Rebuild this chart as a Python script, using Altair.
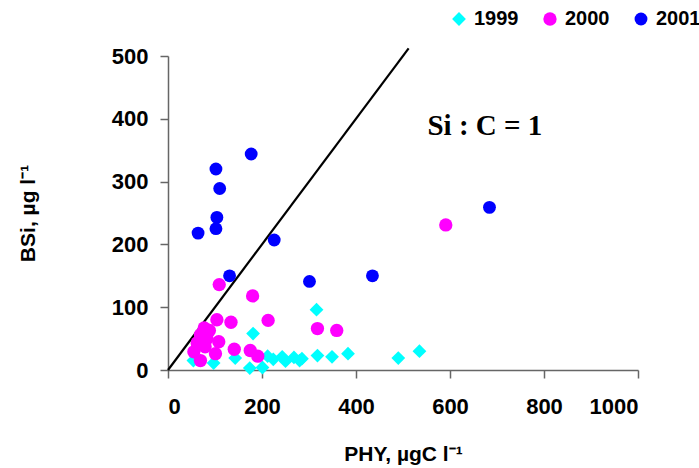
import altair as alt
import pandas as pd

# ---- data ----
years = ["1999", "2000", "2001"]
colors = ["#00FFFF", "#FF00FF", "#0000FF"]
shapes = ["diamond", "circle", "circle"]

phy_1999 = [54, 97, 143, 174, 181, 201, 212, 224, 243, 250, 268, 280, 285, 316, 318, 349, 383, 490, 535]
bsi_1999 = [15, 11, 19, 3, 58, 4, 22, 17, 21, 14, 20, 15, 18, 96, 23, 21, 26, 19, 30]

phy_2000 = [109, 180, 104, 134, 77, 88, 69, 83, 108, 62, 79, 55, 101, 141, 175, 69, 191, 213, 318, 359, 591]
bsi_2000 = [136, 118, 80, 76, 67, 63, 56, 50, 45, 43, 37, 29, 26, 33, 31, 15, 22, 79, 66, 63, 231]

phy_2001 = [64, 102, 110, 104, 102, 177, 226, 131, 301, 435, 684]
bsi_2001 = [218, 320, 289, 243, 225, 344, 207, 150, 141, 150, 259]

ratio_x = [0, 512]
ratio_y = [0, 512]
ratio_label = "Si : C = 1"
ratio_label_x = 552
ratio_label_y = 374

x_ticks = [0, 200, 400, 600, 800, 1000]
y_ticks = [0, 100, 200, 300, 400, 500]

# ---- build tables ----
rows = []
for yr, xs, ys in zip(years, [phy_1999, phy_2000, phy_2001], [bsi_1999, bsi_2000, bsi_2001]):
    for a, b in zip(xs, ys):
        rows.append({"year": yr, "phy": a, "bsi": b})
pts = pd.DataFrame(rows)
line_df = pd.DataFrame({"phy": ratio_x, "bsi": ratio_y})

FONT = "Liberation Sans"
AXIS_COLOR = "#666666"

xscale = alt.Scale(domain=[0, 1000], nice=False, zero=True)
yscale = alt.Scale(domain=[0, 500], nice=False, zero=True)

xaxis = alt.Axis(
    values=x_ticks, format="d", title="PHY, µgC l⁻¹", grid=False,
    labelFont=FONT, labelFontWeight="bold", labelFontSize=22, labelColor="black",
    labelPadding=18, tickSize=8, tickColor=AXIS_COLOR, tickWidth=1.5,
    domainColor=AXIS_COLOR, domainWidth=1.5,
    titleFont=FONT, titleFontWeight="bold", titleFontSize=21, titleColor="black",
    titleBaseline="alphabetic", titleX=235, titleY=90, titleAnchor="middle",
)
yaxis = alt.Axis(
    values=y_ticks, format="d", title="BSi, µg l⁻¹", grid=False,
    labelFont=FONT, labelFontWeight="bold", labelFontSize=22, labelColor="black",
    labelPadding=12, tickSize=8, tickColor=AXIS_COLOR, tickWidth=1.5,
    domainColor=AXIS_COLOR, domainWidth=1.5,
    titleFont=FONT, titleFontWeight="bold", titleFontSize=21, titleColor="black",
    titleBaseline="alphabetic", titleX=-134, titleY=157, titleAngle=-90,
    titleAlign="center",
)

line = alt.Chart(line_df).mark_line(color="black", strokeWidth=2.2, clip=False).encode(
    x=alt.X("phy:Q", scale=xscale, axis=xaxis),
    y=alt.Y("bsi:Q", scale=yscale, axis=yaxis),
)

points = alt.Chart(pts).mark_point(filled=True, opacity=1, strokeWidth=0).encode(
    x=alt.X("phy:Q", scale=xscale, axis=xaxis),
    y=alt.Y("bsi:Q", scale=yscale, axis=yaxis),
    color=alt.Color(
        "year:N", scale=alt.Scale(domain=years, range=colors),
        legend=alt.Legend(
            title=None, orient="none", legendX=281, legendY=-47, direction="horizontal",
            labelFont=FONT, labelFontWeight="bold", labelFontSize=20, labelColor="black",
            symbolSize=150, columnPadding=21, labelOffset=5, padding=0,
        ),
    ),
    shape=alt.Shape("year:N", scale=alt.Scale(domain=years, range=shapes)),
    size=alt.Size("year:N", scale=alt.Scale(domain=years, range=[190, 165, 165]), legend=None),
)

label = alt.Chart(pd.DataFrame({"t": [ratio_label]})).mark_text(
    font="Liberation Serif", fontWeight="bold", fontSize=29, align="left",
    baseline="alphabetic", color="black",
).encode(
    x=alt.datum(ratio_label_x), y=alt.datum(ratio_label_y), text="t:N",
)

chart = alt.layer(line, points, label).properties(
    width=470, height=314,
    autosize=alt.AutoSizeParams(type="none"),
    padding={"left": 168, "top": 56, "right": 61, "bottom": 98},
    background="white",
).configure_view(stroke=None)

chart.save("out.html", embed_options={"renderer": "svg", "actions": False})
